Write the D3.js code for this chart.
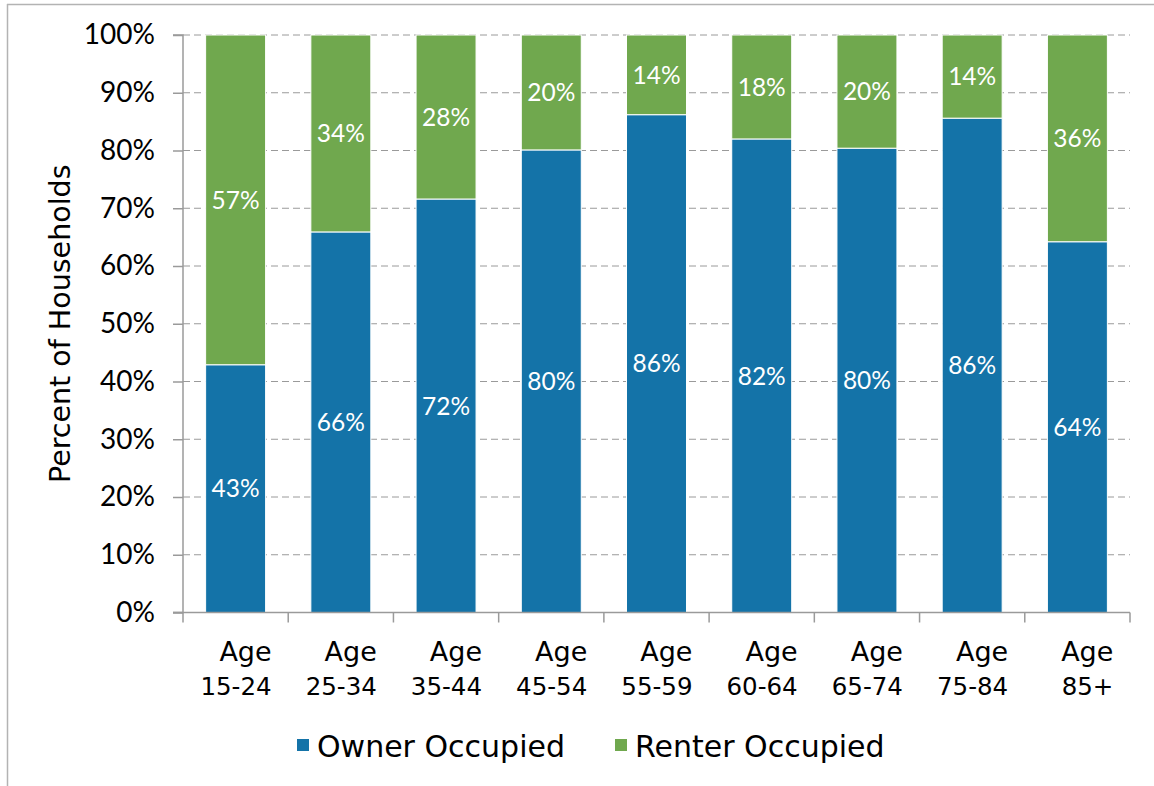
<!DOCTYPE html>
<html><head><meta charset="utf-8">
<script src="https://cdn.jsdelivr.net/npm/d3@7"></script>
<style>
body{margin:0;background:#fff;}
svg{display:block;}
text{font-family:"DejaVu Sans",sans-serif;}
</style></head>
<body><svg id="c" width="1154" height="786"></svg>
<script>
const categories = ["Age 15-24","Age 25-34","Age 35-44","Age 45-54","Age 55-59","Age 60-64","Age 65-74","Age 75-84","Age 85+"];
const ownerValues = [42.9, 65.9, 71.6, 80.1, 86.2, 82.0, 80.4, 85.6, 64.2];
const renterValues = [57.1, 34.1, 28.4, 19.9, 13.8, 18.0, 19.6, 14.4, 35.8];
const seriesNames = ["Owner Occupied","Renter Occupied"];
const seriesColors = ["#1473a8","#70a84e"];
const yTicks = [0,10,20,30,40,50,60,70,80,90,100];

const svg = d3.select("#c");
const mLeft = 183, mRight = 1130, mTop = 35, mBottom = 612.5;
const numFont = '"Lato","Open Sans",sans-serif';

// frame
svg.append("line").attr("x1",7.5).attr("x2",7.5).attr("y1",4).attr("y2",786).attr("stroke","#b3b3b3").attr("stroke-width",1.5);
svg.append("line").attr("x1",7).attr("x2",1154).attr("y1",4.5).attr("y2",4.5).attr("stroke","#b3b3b3").attr("stroke-width",1.5);

const x = d3.scaleBand().domain(categories).range([mLeft,mRight]).paddingInner(0.43).paddingOuter(0.215);
const y = d3.scaleLinear().domain([0,100]).range([mBottom,mTop]);

// gridlines
svg.append("g").selectAll("line").data(yTicks.filter(d=>d>0)).join("line")
  .attr("x1",mLeft).attr("x2",mRight).attr("y1",d=>y(d)).attr("y2",d=>y(d))
  .attr("stroke","#9a9a9a").attr("stroke-width",1).attr("stroke-dasharray","7,4");

const data = categories.map((c,i)=>({cat:c, owner:ownerValues[i], renter:renterValues[i]}));
const stack = d3.stack().keys(["owner","renter"])(data);

const g = svg.append("g");
stack.forEach((layer,li)=>{
  g.append("g").selectAll("rect").data(layer).join("rect")
    .attr("x",d=>x(d.data.cat)).attr("width",x.bandwidth())
    .attr("y",d=>y(d[1])).attr("height",d=>y(d[0])-y(d[1]))
    .attr("fill",seriesColors[li]).attr("stroke","#ffffff").attr("stroke-width",1);
  g.append("g").selectAll("text").data(layer).join("text")
    .attr("x",d=>x(d.data.cat)+x.bandwidth()/2)
    .attr("y",d=>(y(d[0])+y(d[1]))/2)
    .attr("dy","0.36em").attr("text-anchor","middle")
    .attr("fill","#fff").attr("font-size",24.5).style("font-family",numFont)
    .text(d=>Math.round(d[1]-d[0])+"%");
});

// y axis
const yAxis = d3.axisLeft(y).tickValues(yTicks).tickFormat(d=>d+"%").tickSize(10).tickPadding(18);
const ya = svg.append("g").attr("transform",`translate(${mLeft},0)`).call(yAxis);
ya.select(".domain").attr("stroke","#9a9a9a").attr("stroke-width",1.5).attr("d",`M-10,${mTop}H0V${mBottom}H-10`);
ya.selectAll(".tick line").attr("stroke","#9a9a9a").attr("stroke-width",1.5);
ya.selectAll(".tick text").attr("font-size",28).attr("fill","#000").style("font-family",numFont);

// x axis
svg.append("line").attr("x1",mLeft-10).attr("x2",mRight).attr("y1",mBottom).attr("y2",mBottom).attr("stroke","#9a9a9a").attr("stroke-width",1.5);
const bounds = d3.range(categories.length+1).map(i=>mLeft+i*(mRight-mLeft)/categories.length);
svg.append("g").selectAll("line").data(bounds).join("line")
  .attr("x1",d=>d).attr("x2",d=>d).attr("y1",mBottom).attr("y2",mBottom+10)
  .attr("stroke","#9a9a9a").attr("stroke-width",1.5);
const xl = svg.append("g").selectAll("text").data(categories).join("text")
  .attr("text-anchor","end").attr("fill","#000")
  .attr("transform",d=>`translate(${x(d)+x.bandwidth()/2+36},0)`);
xl.append("tspan").attr("x",0).attr("y",661).attr("font-size",27).text(d=>d.split(" ")[0]);
xl.append("tspan").attr("x",0).attr("y",695).attr("font-size",24.5).text(d=>d.split(" ")[1]);

// y title
svg.append("text").attr("transform",`translate(70,${(mTop+mBottom)/2}) rotate(-90)`)
  .attr("text-anchor","middle").attr("font-size",28.5).attr("fill","#000").text("Percent of Households");

// legend
const leg = svg.append("g");
const legX = [297, 615];
seriesNames.forEach((n,i)=>{
  leg.append("rect").attr("x",legX[i]).attr("y",739).attr("width",12).attr("height",12).attr("fill",seriesColors[i]);
  leg.append("text").attr("x",legX[i]+20).attr("y",757).attr("font-size",30).attr("fill","#000").text(n);
});
</script></body></html>
